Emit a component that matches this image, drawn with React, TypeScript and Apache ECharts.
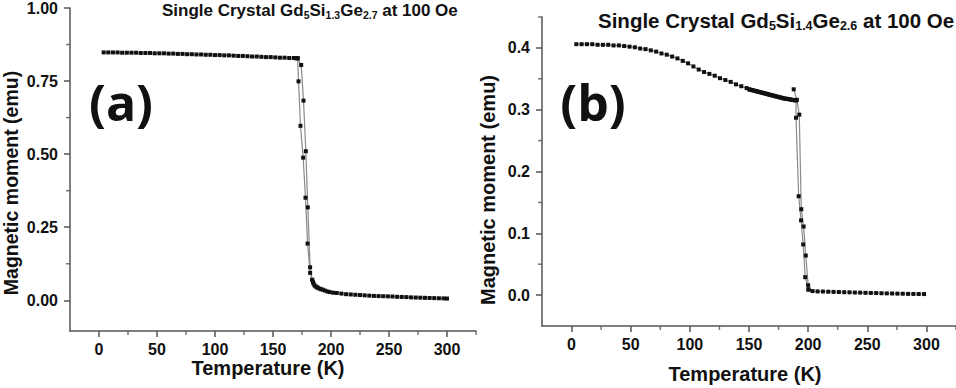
import React, { useEffect, useRef } from "react";
import * as echarts from "echarts";

// ---------- Panel (a): Gd5Si1.3Ge2.7 ----------
const aFlatT = [4, 8, 12, 16, 20, 24, 28, 32, 36, 40, 44, 48, 52, 56, 60, 64, 68, 72, 76, 80, 84, 88, 92, 96, 100, 104, 108, 112, 116, 120, 124, 128, 132, 136, 140, 144, 148, 152, 156, 160, 164, 168, 170, 171.3];
const aFlatM = [0.848, 0.848, 0.848, 0.848, 0.847, 0.847, 0.847, 0.847, 0.846, 0.846, 0.846, 0.845, 0.845, 0.845, 0.844, 0.844, 0.843, 0.843, 0.842, 0.842, 0.841, 0.841, 0.84, 0.84, 0.839, 0.839, 0.838, 0.838, 0.837, 0.836, 0.836, 0.835, 0.834, 0.834, 0.833, 0.832, 0.832, 0.831, 0.83, 0.83, 0.829, 0.829, 0.828, 0.828];
const aDownT = [172, 173.7, 176, 178, 179.8, 182, 183.8];
const aDownM = [0.749, 0.597, 0.488, 0.351, 0.194, 0.094, 0.07];
const aUpT = [183.8, 182, 180, 178.3, 176.3, 174.3, 171.3];
const aUpM = [0.07, 0.113, 0.318, 0.51, 0.683, 0.805, 0.828];
const aTailT = [184.5, 185, 185.8, 186.7, 187.6, 188.6, 190, 191.5, 193, 195, 197, 199, 202, 205, 209, 213, 217, 221, 225, 229, 233, 237, 241, 245, 249, 253, 257, 261, 265, 269, 273, 277, 281, 285, 289, 293, 297, 300];
const aTailM = [0.062, 0.057, 0.051, 0.048, 0.045, 0.043, 0.04, 0.038, 0.036, 0.033, 0.03, 0.028, 0.026, 0.025, 0.023, 0.021, 0.02, 0.019, 0.018, 0.017, 0.016, 0.015, 0.0145, 0.014, 0.0135, 0.013, 0.012, 0.0115, 0.011, 0.01, 0.0095, 0.009, 0.0085, 0.008, 0.0075, 0.007, 0.0065, 0.006];

// ---------- Panel (b): Gd5Si1.4Ge2.6 ----------
const bFlatT = [4, 8.5, 13, 17.5, 22, 26.5, 31, 35.5, 40, 44.5, 49, 53.5, 58, 62.5, 67, 71.5, 76, 80.5, 85, 89.5, 94, 98.5, 103, 107.5, 112, 116.5, 121, 125.5, 130, 134.5, 139, 143.5, 148];
const bFlatM = [0.406, 0.406, 0.406, 0.406, 0.405, 0.405, 0.405, 0.404, 0.404, 0.403, 0.402, 0.401, 0.399, 0.398, 0.396, 0.394, 0.391, 0.389, 0.386, 0.383, 0.379, 0.375, 0.37, 0.365, 0.361, 0.358, 0.355, 0.351, 0.348, 0.345, 0.341, 0.338, 0.335];
const bDenseT = [150, 151, 152, 153, 154, 155, 156, 157, 158, 159, 160, 161, 162, 163, 164, 165, 166, 167, 168, 169, 170, 171, 172, 173, 174, 175, 176, 177, 178, 179, 180, 181, 182, 183, 184, 185, 186, 187, 188, 189, 189.75];
const bDenseM = [0.333, 0.3325, 0.332, 0.3315, 0.331, 0.3305, 0.33, 0.3295, 0.329, 0.3285, 0.328, 0.3275, 0.327, 0.3265, 0.326, 0.3255, 0.325, 0.3245, 0.324, 0.3235, 0.323, 0.3225, 0.322, 0.3215, 0.321, 0.3205, 0.32, 0.3195, 0.319, 0.3185, 0.318, 0.3178, 0.3175, 0.3172, 0.317, 0.3165, 0.316, 0.3158, 0.3155, 0.3152, 0.315];
const bDownT = [189.75, 192, 194, 195.8, 197.5, 200.3];
const bDownM = [0.287, 0.16, 0.121, 0.082, 0.029, 0.009];
const bUpT = [200.3, 200, 198, 196.2, 194.2, 192.5, 190.5, 187.8];
const bUpM = [0.009, 0.016, 0.064, 0.111, 0.139, 0.292, 0.316, 0.333];
const bTailT = [203.7, 208, 212.5, 217, 221.5, 226, 230.5, 235, 239.5, 244, 248.5, 253, 257.5, 262, 266.5, 271, 275.5, 280, 284.5, 289, 293.5, 298];
const bTailM = [0.0065, 0.006, 0.0058, 0.0055, 0.0052, 0.005, 0.0047, 0.0045, 0.0042, 0.004, 0.0037, 0.0035, 0.0033, 0.003, 0.0028, 0.0026, 0.0024, 0.0022, 0.002, 0.0019, 0.0018, 0.0017];

// ---------- Tick values ----------
const xMajor = [0, 50, 100, 150, 200, 250, 300];
const xMinor = [25, 75, 125, 175, 225, 275, 325];
const aYMajor = [0, 0.25, 0.5, 0.75, 1.0];
const aYMinor = [0.125, 0.375, 0.625, 0.875];
const bYMajor = [0, 0.1, 0.2, 0.3, 0.4];
const bYMinor = [0.05, 0.15, 0.25, 0.35, 0.45];

const FONT = "Liberation Sans";
const AX = "#555";
const TXT = "#111";
const X_MIN = -25;
const X_MAX = 325;
const A_YMIN = -0.105;
const A_YMAX = 1.0;
const B_YMIN = -0.05;
const B_YMAX = 0.45;

const zip = (t: number[], m: number[]) => t.map((v, i) => [v, m[i]]);

function majorAxis(kind: "x" | "y", grid: number, min: number, max: number, ticks: number[], fmt: (v: number) => string) {
  return {
    type: "value",
    gridIndex: grid,
    min,
    max,
    position: kind === "x" ? "bottom" : "left",
    axisLine: { show: true, onZero: false, lineStyle: { color: AX, width: 1.5 } },
    axisTick: { show: true, customValues: ticks, length: 6, lineStyle: { color: AX, width: 1.5 } },
    axisLabel: {
      show: true,
      customValues: ticks,
      formatter: fmt,
      margin: kind === "x" ? 10 : 12,
      color: TXT,
      fontFamily: FONT,
      fontWeight: "bold",
      fontSize: 16,
    },
    splitLine: { show: false },
  };
}

function lineSeries(xi: number, yi: number, data: number[][]) {
  return {
    type: "line",
    xAxisIndex: xi,
    yAxisIndex: yi,
    data,
    symbol: "rect",
    symbolSize: 4,
    itemStyle: { color: "#111" },
    lineStyle: { color: "#8a8a8a", width: 1.2 },
    silent: true,
  };
}

// minor ticks drawn as tiny rect symbols placed by the axes' own scales
function minorTicks(xi: number, yi: number, data: number[][], horizontal: boolean) {
  return {
    type: "scatter",
    xAxisIndex: xi,
    yAxisIndex: yi,
    data,
    symbol: "rect",
    symbolSize: horizontal ? [1.5, 4] : [4, 1.5],
    symbolOffset: horizontal ? [0, 2] : [-2, 0],
    itemStyle: { color: AX },
    clip: false,
    silent: true,
    z: 1,
  };
}

function title(x: number, y: number, main: number, sub: number, s1: string, s2: string) {
  return {
    type: "text",
    x,
    y,
    style: {
      text: `{m|Single Crystal Gd}{s|5}{m|Si}{s|${s1}}{m|Ge}{s|${s2}}{m| at 100 Oe}`,
      align: "left",
      verticalAlign: "middle",
      rich: {
        m: { fontFamily: FONT, fontWeight: "bold", fontSize: main, fill: TXT, lineHeight: main + 4 },
        s: { fontFamily: FONT, fontWeight: "bold", fontSize: sub, fill: TXT, lineHeight: sub, verticalAlign: "bottom" },
      },
    },
  };
}

function plainText(x: number, y: number, text: string, size: number, rot = 0, family = FONT) {
  return {
    type: "text",
    x,
    y,
    rotation: rot,
    style: { text, fontFamily: family, fontWeight: "bold", fontSize: size, fill: TXT, align: "center", verticalAlign: "middle" },
  };
}

export default function App() {
  const ref = useRef<HTMLDivElement>(null);
  useEffect(() => {
    if (!ref.current) return;
    const chart = echarts.init(ref.current, undefined, { renderer: "svg" });
    const fx = (v: number) => String(v);
    const option = {
      animation: false,
      backgroundColor: "#ffffff",
      grid: [
        { left: 70, top: 5, width: 406, height: 326 },
        { left: 542, top: 17, width: 420, height: 309 },
      ],
      xAxis: [
        majorAxis("x", 0, X_MIN, X_MAX, xMajor, fx),
        majorAxis("x", 1, X_MIN, X_MAX, xMajor, fx),
      ],
      yAxis: [
        majorAxis("y", 0, A_YMIN, A_YMAX, aYMajor, (v: number) => v.toFixed(2)),
        majorAxis("y", 1, B_YMIN, B_YMAX, bYMajor, (v: number) => v.toFixed(1)),
      ],
      series: [
        lineSeries(0, 0, [...zip(aFlatT, aFlatM), ...zip(aDownT, aDownM), ...zip(aTailT, aTailM)]),
        lineSeries(0, 0, zip(aUpT, aUpM)),
        lineSeries(1, 1, [...zip(bFlatT, bFlatM), ...zip(bDenseT, bDenseM), ...zip(bDownT, bDownM), ...zip(bTailT, bTailM)]),
        lineSeries(1, 1, zip(bUpT, bUpM)),
        minorTicks(0, 0, xMinor.map((v) => [v, A_YMIN]), true),
        minorTicks(0, 0, aYMinor.map((v) => [X_MIN, v]), false),
        minorTicks(1, 1, xMinor.map((v) => [v, B_YMIN]), true),
        minorTicks(1, 1, bYMinor.map((v) => [X_MIN, v]), false),
      ],
      graphic: [
        title(162, 10, 17, 10.5, "1.3", "2.7"),
        title(598, 20, 20.5, 12.5, "1.4", "2.6"),
        plainText(268, 368, "Temperature (K)", 20),
        plainText(745, 374, "Temperature (K)", 20),
        plainText(11, 183, "Magnetic moment (emu)", 19.5, Math.PI / 2),
        plainText(488, 190, "Magnetic moment (emu)", 20, Math.PI / 2),
        plainText(121, 102, "(a)", 50, 0, "Open Sans"),
        plainText(593, 102, "(b)", 50, 0, "Open Sans"),
      ],
    };
    chart.setOption(option as any);
    return () => chart.dispose();
  }, []);
  return <div ref={ref} style={{ position: "absolute", left: 0, top: 0, width: 956, height: 388 }} />;
}
